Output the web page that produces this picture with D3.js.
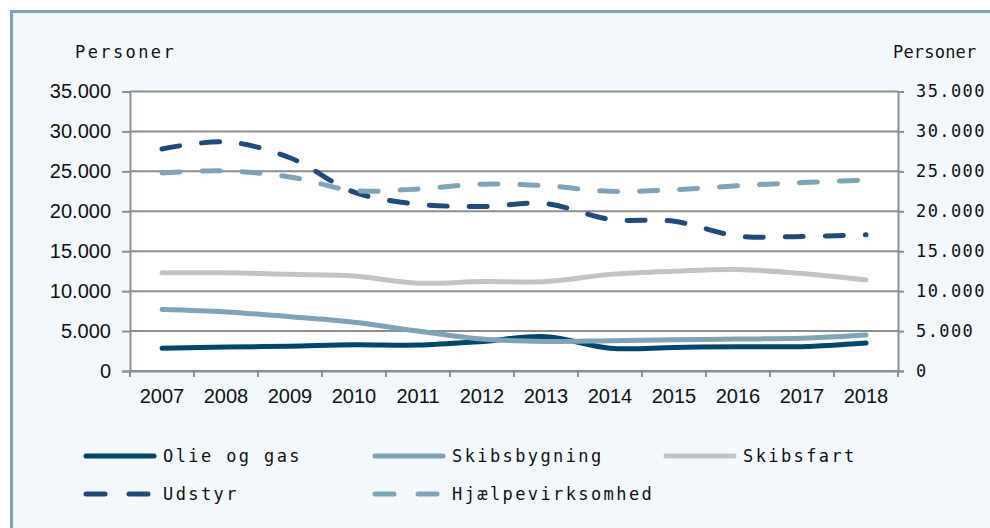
<!DOCTYPE html>
<html>
<head>
<meta charset="utf-8">
<script src="https://cdn.jsdelivr.net/npm/d3@7"></script>
<style>
  body { margin: 0; background: #fff; }
  svg { display: block; }
</style>
</head>
<body>
<div id="chart"></div>
<script>
const years = ["2007", "2008", "2009", "2010", "2011", "2012", "2013", "2014", "2015", "2016", "2017", "2018"];
const olieOgGas = [2850, 3000, 3100, 3300, 3250, 3700, 4300, 2850, 2950, 3050, 3050, 3500];
const skibsbygning = [7700, 7400, 6800, 6100, 5000, 4000, 3700, 3800, 3900, 4000, 4100, 4500];
const skibsfart = [12300, 12300, 12100, 11900, 11000, 11200, 11200, 12100, 12500, 12700, 12200, 11400];
const udstyr = [27800, 28700, 26700, 22400, 20900, 20600, 20950, 19000, 18750, 16900, 16850, 17050];
const hjaelpevirksomhed = [24800, 25050, 24300, 22600, 22800, 23400, 23200, 22500, 22700, 23200, 23600, 23900];
const yTicks = [0, 5000, 10000, 15000, 20000, 25000, 30000, 35000];

const WIDTH = 990, HEIGHT = 528;
const MARGIN = {left: 130, right: 92, top: 91.5, bottom: 157};
const PLOT_W = WIDTH - MARGIN.left - MARGIN.right;
const PLOT_H = HEIGHT - MARGIN.top - MARGIN.bottom;

const series = [
  {name: "Olie og gas", values: olieOgGas, color: "#00466f", dash: null},
  {name: "Skibsbygning", values: skibsbygning, color: "#7fa3b8", dash: null},
  {name: "Skibsfart", values: skibsfart, color: "#c3c3c3", dash: null},
  {name: "Udstyr", values: udstyr, color: "#1f4a7d", dash: "18,22"},
  {name: "Hjælpevirksomhed", values: hjaelpevirksomhed, color: "#7fa3b8", dash: "18,22"}
];

const monoFont = "'DejaVu Sans Mono', monospace";
const sansFont = "'Liberation Sans', Arial, sans-serif";

const svg = d3.select("#chart").append("svg")
  .attr("width", WIDTH)
  .attr("height", HEIGHT);

// background and frame
svg.append("rect")
  .attr("width", WIDTH).attr("height", HEIGHT)
  .attr("fill", "#ffffff");
svg.append("rect")
  .attr("x", 11.5).attr("y", 11.5)
  .attr("width", WIDTH).attr("height", HEIGHT)
  .attr("fill", "#f3f8fd")
  .attr("stroke", "#7ea3b9")
  .attr("stroke-width", 3);

const chart = svg.append("g")
  .attr("transform", `translate(${MARGIN.left},${MARGIN.top})`);

chart.append("rect")
  .attr("width", PLOT_W).attr("height", PLOT_H)
  .attr("fill", "#ffffff");

const xScale = d3.scaleBand()
  .domain(years)
  .range([0, PLOT_W]);

const yScale = d3.scaleLinear()
  .domain([0, 35000])
  .range([PLOT_H, 0]);

const fmt = d => d === 0 ? "0" : d3.format(",")(d).replace(/,/g, ".");

// gridlines
chart.selectAll(".grid")
  .data(yTicks)
  .enter()
  .append("line")
  .attr("x1", 0).attr("x2", PLOT_W)
  .attr("y1", d => yScale(d)).attr("y2", d => yScale(d))
  .attr("stroke", "#8e8e8e")
  .attr("stroke-width", 2);

// left axis
const leftAxis = chart.append("g")
  .call(d3.axisLeft(yScale).tickValues(yTicks).tickFormat(fmt).tickSize(8).tickPadding(11));
leftAxis.select(".domain").attr("stroke", "#8e8e8e").attr("stroke-width", 2);
leftAxis.selectAll(".tick line").attr("stroke", "#8e8e8e").attr("stroke-width", 2);
leftAxis.selectAll("text")
  .attr("font-family", sansFont)
  .attr("font-size", 20)
  .attr("fill", "#111");

// right axis
const rightAxis = chart.append("g")
  .attr("transform", `translate(${PLOT_W},0)`)
  .call(d3.axisRight(yScale).tickValues(yTicks).tickFormat(fmt).tickSize(6).tickPadding(12));
rightAxis.select(".domain").attr("stroke", "#8e8e8e").attr("stroke-width", 2);
rightAxis.selectAll(".tick line").attr("stroke", "#8e8e8e").attr("stroke-width", 2);
rightAxis.selectAll("text")
  .attr("font-family", monoFont)
  .attr("font-size", 17)
  .attr("letter-spacing", 1.4)
  .attr("fill", "#111");

// x axis, ticks on the band edges
const xAxis = chart.append("g")
  .attr("transform", `translate(0,${PLOT_H})`)
  .call(d3.axisBottom(xScale).tickSize(0).tickPadding(18));
xAxis.select(".domain").attr("stroke", "#8e8e8e").attr("stroke-width", 2);
xAxis.selectAll("text")
  .attr("font-family", sansFont)
  .attr("font-size", 20)
  .attr("fill", "#111");
xAxis.selectAll(".edge")
  .data(d3.range(years.length + 1))
  .enter()
  .append("line")
  .attr("x1", i => i * xScale.step()).attr("x2", i => i * xScale.step())
  .attr("y1", 0).attr("y2", 6)
  .attr("stroke", "#8e8e8e")
  .attr("stroke-width", 2);

// axis titles
svg.append("text")
  .attr("x", 75).attr("y", 58)
  .attr("font-family", monoFont).attr("font-size", 17).attr("letter-spacing", 2.4)
  .attr("fill", "#111")
  .text("Personer");
svg.append("text")
  .attr("x", 893).attr("y", 58)
  .attr("font-family", monoFont).attr("font-size", 17).attr("letter-spacing", 0.2)
  .attr("fill", "#111")
  .text("Personer");

// lines
const line = d3.line()
  .x((d, i) => xScale(years[i]) + xScale.bandwidth() / 2)
  .y(d => yScale(d))
  .curve(d3.curveCatmullRom.alpha(0.5));

chart.selectAll(".series")
  .data(series)
  .enter()
  .append("path")
  .attr("class", "series")
  .attr("d", d => line(d.values))
  .attr("fill", "none")
  .attr("stroke", d => d.color)
  .attr("stroke-width", 5)
  .attr("stroke-linecap", "round")
  .attr("stroke-linejoin", "round")
  .attr("stroke-dasharray", d => d.dash);

// legend
const legendPos = [
  {x: 86, y: 456}, {x: 375, y: 456}, {x: 666, y: 456},
  {x: 86, y: 494}, {x: 375, y: 494}
];
const legend = svg.selectAll(".legend")
  .data(series)
  .enter()
  .append("g")
  .attr("transform", (d, i) => `translate(${legendPos[i].x},${legendPos[i].y})`);
legend.append("line")
  .attr("x1", 0).attr("x2", 68)
  .attr("stroke", d => d.color)
  .attr("stroke-width", 5)
  .attr("stroke-linecap", "round")
  .attr("stroke-dasharray", d => d.dash ? "19,24" : null);
legend.append("text")
  .attr("x", 77).attr("y", 6)
  .attr("font-family", monoFont).attr("font-size", 17).attr("letter-spacing", 2.4)
  .attr("fill", "#111")
  .text(d => d.name);
</script>
</body>
</html>
